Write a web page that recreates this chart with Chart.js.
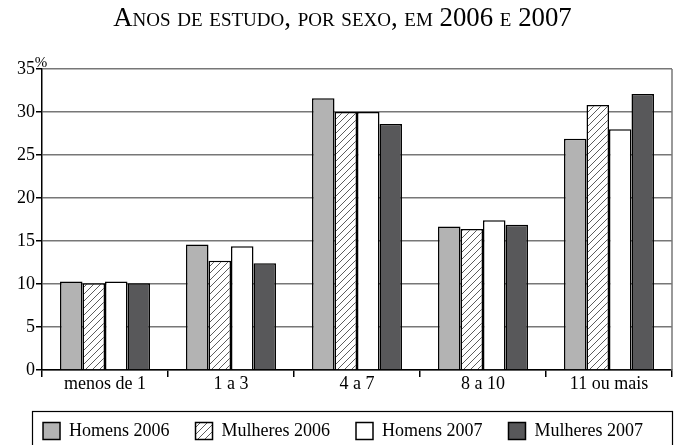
<!DOCTYPE html>
<html>
<head>
<meta charset="utf-8">
<script src="https://cdn.jsdelivr.net/npm/chart.js@4.4.0/dist/chart.umd.min.js"></script>
<style>
  html, body { margin: 0; padding: 0; background: #fff; }
  #wrap { position: relative; width: 679px; height: 445px; overflow: hidden; }
  #title {
    position: absolute; left: 3px; top: 2px; width: 679px; text-align: center;
    font-family: 'Liberation Serif', 'Times New Roman', serif; font-size: 26.8px;
    font-variant: small-caps; color: #000; white-space: nowrap;
  }
  canvas { position: absolute; left: 0; top: 0; }
</style>
</head>
<body>
<div id="wrap">
  <canvas id="chart" width="679" height="445"></canvas>
  <div id="title">Anos de estudo, por sexo, em 2006 e 2007</div>
</div>
<script>
// categorias e séries
const categories = ['menos de 1', '1 a 3', '4 a 7', '8 a 10', '11 ou mais'];
const seriesNames = ['Homens 2006', 'Mulheres 2006', 'Homens 2007', 'Mulheres 2007'];
const homens2006 = [10.3, 14.6, 31.6, 16.7, 26.9];
const mulheres2006 = [10.1, 12.7, 30.0, 16.4, 30.8];
const homens2007 = [10.3, 14.4, 30.0, 17.4, 28.0];
const mulheres2007 = [10.1, 12.4, 28.6, 16.9, 32.1];
const yTicks = [0, 5, 10, 15, 20, 25, 30, 35];

// hachurado diagonal para Mulheres 2006
function hatch() {
    const c = document.createElement('canvas');
    c.width = 7; c.height = 7;
    const g = c.getContext('2d');
    g.fillStyle = '#fff';
    g.fillRect(0, 0, 7, 7);
    g.strokeStyle = '#333';
    g.lineWidth = 0.8;
    g.beginPath();
    g.moveTo(-1, 8); g.lineTo(8, -1);
    g.moveTo(-1, 1); g.lineTo(1, -1);
    g.moveTo(6, 8); g.lineTo(8, 6);
    g.stroke();
    return g.createPattern(c, 'repeat');
}

const serif = "'Liberation Serif', 'Times New Roman', serif";
Chart.defaults.font.family = serif;
Chart.defaults.font.size = 18;
Chart.defaults.color = '#000';

const fills = ['#b3b3b3', hatch(), '#ffffff', '#58585a'];
const values = [homens2006, mulheres2006, homens2007, mulheres2007];

const extras = {
    id: 'extras',
    afterLayout(chart) {
        // desloca a linha da legenda para a direita, como no original
        chart.legend.left = 14;
    },
    beforeDatasetsDraw(chart) {
        const {ctx, chartArea: a} = chart;
        ctx.save();
        ctx.strokeStyle = '#777';
        ctx.lineWidth = 1.5;
        ctx.beginPath();
        ctx.moveTo(a.right, a.top);
        ctx.lineTo(a.right, a.bottom);
        ctx.stroke();
        ctx.restore();
    },
    afterDraw(chart) {
        const {ctx, chartArea: a, legend} = chart;
        ctx.save();
        ctx.fillStyle = '#000';
        ctx.font = '15px ' + serif;
        ctx.textAlign = 'center';
        ctx.fillText('%', a.left - 1, a.top - 6);
        // moldura da legenda
        const hb = legend.legendHitBoxes[0];
        ctx.strokeStyle = '#000';
        ctx.lineWidth = 1.2;
        ctx.strokeRect(a.left - 9.5, hb.top - 10.5, a.right - a.left + 10, 60);
        ctx.restore();
    }
};

new Chart(document.getElementById('chart'), {
    type: 'bar',
    data: {
        labels: categories,
        datasets: seriesNames.map((name, i) => ({
            label: name,
            data: values[i],
            backgroundColor: fills[i],
            borderColor: '#000',
            borderWidth: 1.5,
            barPercentage: 1,
            categoryPercentage: 0.714
        }))
    },
    options: {
        responsive: false,
        animation: false,
        layout: { padding: { top: 69, left: 0, right: 7, bottom: -5 } },
        plugins: {
            title: { display: false },
            tooltip: { enabled: false },
            legend: {
                position: 'bottom',
                labels: {
                    boxWidth: 17,
                    boxHeight: 17,
                    padding: 26,
                    font: { size: 18 }
                }
            }
        },
        scales: {
            x: {
                afterFit(s) { s.height = 26; },
                grid: { offset: true, drawOnChartArea: false, tickLength: 7, color: '#000', lineWidth: 1.5 },
                border: { color: '#000', width: 1.5 },
                ticks: { padding: -4, maxRotation: 0 }
            },
            y: {
                min: 0,
                max: 35,
                afterFit(s) { s.width = 42; },
                afterBuildTicks(s) { s.ticks = yTicks.map(v => ({ value: v })); },
                grid: { color: '#777', lineWidth: 1.5, tickColor: '#000', tickLength: 6 },
                border: { color: '#000', width: 1.5 },
                ticks: { padding: 1 }
            }
        }
    },
    plugins: [extras]
});
</script>
</body>
</html>
